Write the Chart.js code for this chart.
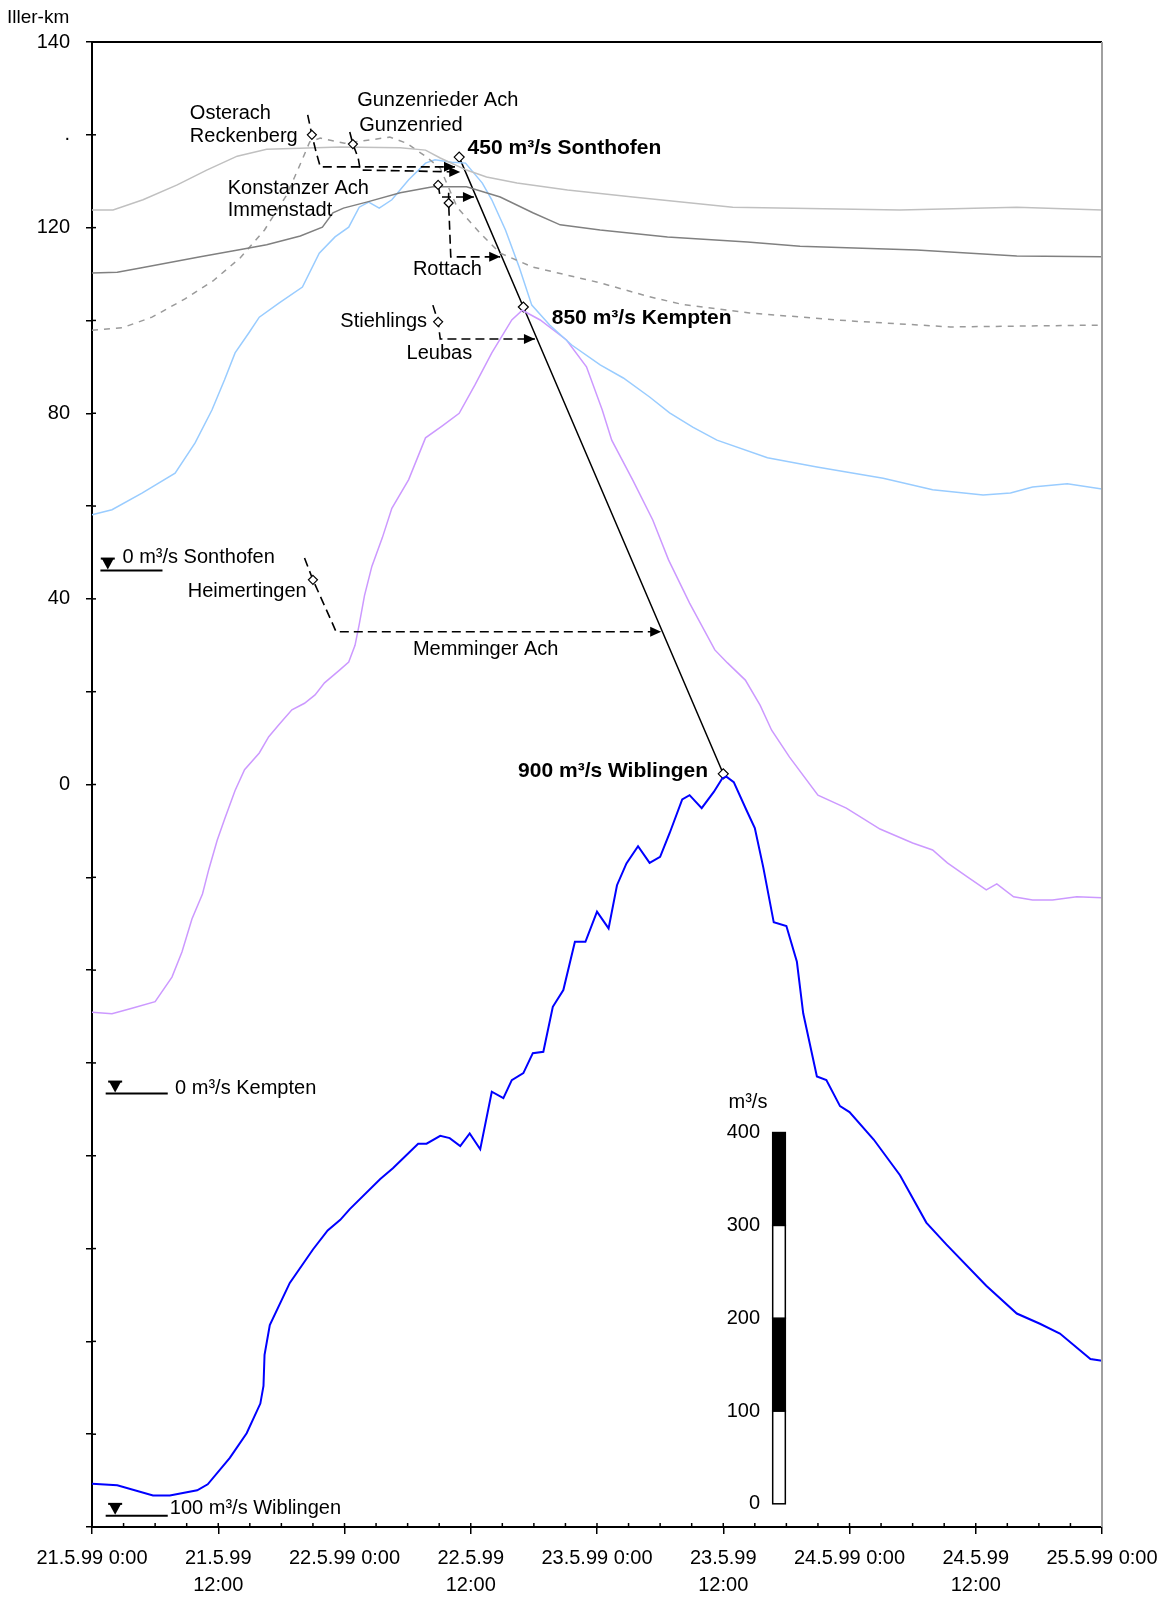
<!DOCTYPE html>
<html>
<head>
<meta charset="utf-8">
<script src="https://cdn.jsdelivr.net/npm/chart.js@4/dist/chart.umd.min.js"></script>
<style>
  html, body { margin: 0; padding: 0; background: #fff; }
</style>
</head>
<body>
<canvas id="myChart" width="1162" height="1599"></canvas>
<script>
// x: Stunden ab 21.5.99 0:00, y: Achseneinheiten (20 Einheiten = 100 m³/s)
const xDays = ['21.5.99', '22.5.99', '23.5.99', '24.5.99', '25.5.99'];
const yTickValues = [140, 120, 100, 60, 20, -20];
const yTickLabels = ['140', '.', '120', '80', '40', '0'];

const grauHellX = [0, 2.0, 4.85, 8.1, 10.9, 13.8, 16.6, 23.6, 29.3, 31.7, 33.1, 35.6, 37.5, 40.4, 45.2, 51.4, 60.9, 76.8, 87.9, 96];
const grauHellY = [103.8, 103.8, 106.0, 109.2, 112.4, 115.4, 116.9, 117.4, 117.2, 116.7, 115.0, 112.4, 110.9, 109.6, 108.1, 106.6, 104.4, 103.8, 104.4, 103.8];

const grauDunkelX = [0, 2.4, 4.6, 10.3, 14.4, 16.6, 19.8, 21.9, 22.9, 23.9, 26.1, 29.3, 32.4, 35.6, 38.8, 41.9, 44.5, 48.3, 54.7, 62.3, 67.3, 78.4, 87.9, 96];
const grauDunkelY = [90.2, 90.4, 91.3, 93.7, 95.4, 96.3, 98.2, 100.1, 103.2, 104.2, 105.5, 107.5, 108.8, 108.8, 106.6, 103.2, 100.6, 99.5, 98.0, 96.9, 96.0, 95.2, 93.9, 93.7];

const grauGestrX = [0, 2.85, 5.7, 8.8, 11.5, 14.1, 16.4, 18.5, 19.8, 20.7, 21.7, 24.0, 26.4, 28.3, 29.9, 31.8, 33.1, 34.7, 36.9, 38.8, 41.9, 48.3, 53.0, 56.2, 62.5, 72.0, 81.6, 96];
const grauGestrY = [77.9, 78.4, 80.7, 84.6, 88.5, 93.5, 99.5, 107.0, 113.7, 118.5, 119.3, 118.2, 118.9, 119.5, 118.2, 115.2, 112.8, 104.4, 98.8, 94.5, 91.5, 88.1, 85.1, 83.4, 81.6, 79.9, 78.6, 79.0];

const sonthofenX = [0, 1.9, 4.75, 7.9, 9.8, 11.4, 12.6, 13.6, 14.9, 15.9, 17.8, 20.0, 21.6, 23.1, 24.4, 25.4, 26.3, 27.3, 28.5, 30.1, 31.7, 32.6, 34.2, 35.5, 37.1, 38.0, 39.3, 40.6, 41.8, 43.5, 45.6, 48.3, 50.5, 53.0, 54.9, 57.1, 59.4, 64.2, 68.9, 75.2, 79.9, 84.7, 87.3, 89.4, 92.7, 96];
const sonthofenY = [38.1, 39.2, 42.8, 47.1, 53.6, 60.7, 67.2, 73.0, 77.3, 80.7, 83.8, 87.2, 94.5, 98.0, 100.1, 104.4, 105.5, 104.2, 106.0, 110.3, 113.9, 114.6, 114.1, 113.9, 109.6, 106.0, 99.5, 91.5, 83.3, 79.0, 74.7, 70.4, 67.6, 63.5, 60.1, 57.0, 54.2, 50.4, 48.4, 46.0, 43.5, 42.4, 42.8, 44.1, 44.8, 43.7];

const kemptenX = [0, 1.9, 3.8, 6.0, 7.6, 8.55, 9.5, 10.5, 11.1, 11.9, 12.6, 13.6, 14.5, 15.9, 16.8, 17.8, 19.0, 20.2, 21.2, 22.1, 23.5, 24.4, 25.0, 25.4, 25.9, 26.6, 27.6, 28.5, 30.1, 31.7, 33.3, 34.9, 36.4, 38.0, 39.9, 40.9, 42.6, 45.1, 47.0, 48.5, 49.4, 51.4, 53.3, 54.8, 56.8, 59.2, 60.4, 62.1, 63.5, 64.6, 66.3, 69.0, 71.7, 74.9, 78.0, 79.9, 81.3, 83.2, 85.0, 86.0, 87.6, 89.4, 91.3, 93.6, 96];
const kemptenY = [-69.1, -69.4, -68.2, -66.8, -61.5, -56.1, -49.0, -43.6, -38.3, -32.0, -27.5, -21.3, -16.8, -13.2, -9.7, -7.0, -3.9, -2.5, -0.7, 1.9, 4.6, 6.4, 10.0, 14.5, 20.7, 27.0, 33.2, 39.5, 45.7, 54.7, 57.3, 60.0, 66.1, 73.0, 80.1, 82.2, 80.1, 75.8, 70.0, 60.7, 54.2, 45.6, 37.0, 28.4, 19.1, 9.0, 6.2, 2.5, -2.9, -8.3, -14.1, -22.3, -25.1, -29.6, -32.6, -34.1, -36.9, -39.9, -42.7, -41.4, -44.2, -44.9, -44.9, -44.2, -44.4];

const wiblingenX = [0, 2.4, 5.8, 7.4, 10.0, 11.0, 13.1, 14.7, 16.0, 16.3, 16.4, 16.9, 18.8, 21.0, 22.4, 23.6, 24.5, 27.4, 28.6, 31.0, 31.8, 33.1, 34.0, 35.0, 35.9, 36.9, 38.0, 39.1, 39.9, 41.0, 41.9, 42.9, 43.8, 44.8, 45.9, 46.9, 48.0, 49.1, 49.9, 50.8, 51.9, 53.0, 54.0, 54.9, 56.1, 56.8, 57.95, 59.1, 59.9, 60.3, 61.0, 62.2, 63.0, 63.8, 64.8, 66.0, 67.0, 67.6, 68.9, 69.8, 71.1, 72.0, 74.3, 76.8, 79.3, 81.2, 85.0, 87.9, 90.1, 92.0, 94.9, 96];
const wiblingenY = [-170.7, -171.0, -173.2, -173.2, -172.1, -170.8, -165.1, -159.8, -153.4, -149.6, -142.9, -136.5, -127.4, -120.2, -116.1, -113.8, -111.5, -105.0, -102.7, -97.4, -97.4, -95.7, -96.2, -97.9, -95.2, -98.6, -86.2, -87.6, -83.7, -82.2, -77.9, -77.6, -67.9, -64.3, -53.9, -53.9, -47.4, -51.0, -41.7, -37.0, -33.3, -36.9, -35.6, -30.5, -23.2, -22.3, -25.1, -21.6, -18.7, -18.3, -19.5, -25.5, -29.4, -37.8, -49.7, -50.5, -58.2, -69.3, -82.9, -83.7, -89.3, -90.6, -96.5, -104.2, -114.4, -119.1, -128.0, -134.0, -136.2, -138.3, -143.8, -144.2];

// Scheitel Sonthofen, Kempten, Wiblingen
const scheitelX = [34.9, 41.0, 60.0];
const scheitelY = [115.2, 82.9, -17.7];

// Zubringer: gestrichelte Pfeile mit Pegel-Raute
const zubringer = [
  { path: [[20.5, 124.3], [20.9, 120.0], [21.3, 116.3], [21.7, 113.1], [34.5, 113.1]], marker: 1 },
  { path: [[24.5, 120.6], [24.8, 118.0], [25.3, 115.0], [25.5, 112.4], [35.0, 112.0]], marker: 1 },
  { path: [[32.9, 109.2], [33.1, 106.6], [36.3, 106.6]], marker: 0 },
  { path: [[33.9, 107.5], [33.9, 105.3], [34.1, 93.7], [38.8, 93.7]], marker: 1 },
  { path: [[32.4, 83.3], [32.9, 79.7], [33.1, 76.0], [42.1, 76.0]], marker: 1 },
  { path: [[20.2, 28.8], [21.0, 24.1], [22.8, 15.0], [23.2, 12.9], [54.1, 12.9]], marker: 1 }
];

const beschriftungen = [
  { t: 'Osterach', h: 9.3, v: 124.7 },
  { t: 'Reckenberg', h: 9.3, v: 119.7 },
  { t: 'Gunzenrieder Ach', h: 25.2, v: 127.3 },
  { t: 'Gunzenried', h: 25.4, v: 122.1 },
  { t: '450 m³/s Sonthofen', h: 35.7, v: 117.2, bold: true },
  { t: 'Konstanzer Ach', h: 12.9, v: 108.5 },
  { t: 'Immenstadt', h: 12.9, v: 103.8 },
  { t: 'Rottach', h: 30.5, v: 90.9 },
  { t: 'Stiehlings', h: 23.6, v: 79.7 },
  { t: '850 m³/s Kempten', h: 43.7, v: 80.5, bold: true },
  { t: 'Leubas', h: 29.9, v: 72.8 },
  { t: 'Heimertingen', h: 9.1, v: 21.7 },
  { t: 'Memminger Ach', h: 30.5, v: 9.2 },
  { t: '900 m³/s Wiblingen', h: 40.5, v: -17.1, bold: true }
];

// Nullpegel-Markierungen
const pegelNull = [
  { t: '0 m³/s Sonthofen', v: 26.1, x0: 0.8, x1: 6.7, tri: 1.5, tx: 2.9, tv: 29.0 },
  { t: '0 m³/s Kempten', v: -86.6, x0: 1.3, x1: 7.2, tri: 2.2, tx: 7.9, tv: -85.4 },
  { t: '100 m³/s Wiblingen', v: -177.6, x0: 1.3, x1: 7.2, tri: 2.2, tx: 7.4, tv: -176.1 }
];

// Massstab m³/s
const skalaWerte = [0, 100, 200, 300, 400];
const skalaBasis = -175;
const skalaFaktor = 0.2;
const skalaX = [64.7, 65.9];

function pts(xs, ys) {
  return xs.map(function (x, i) { return { x: x, y: ys[i] }; });
}

const FONT = '"Liberation Sans", Arial, sans-serif';
Chart.defaults.font.family = FONT;
Chart.defaults.color = '#000';

function raute(c, x, y, r) {
  c.beginPath();
  c.moveTo(x, y - r); c.lineTo(x + r, y); c.lineTo(x, y + r); c.lineTo(x - r, y); c.closePath();
  c.fillStyle = '#fff'; c.fill();
  c.lineWidth = 1.2; c.strokeStyle = '#000'; c.stroke();
}

const annotations = {
  id: 'annotations',
  afterDatasetsDraw: function (chart) {
    const c = chart.ctx;
    const xs = chart.scales.x, ys = chart.scales.y;
    const a = chart.chartArea;
    const px = function (h) { return xs.getPixelForValue(h); };
    const py = function (v) { return ys.getPixelForValue(v); };
    c.save();

    // Rahmen oben / rechts
    c.lineWidth = 2;
    c.strokeStyle = '#000';
    c.beginPath(); c.moveTo(a.left, a.top); c.lineTo(a.right, a.top); c.stroke();
    c.strokeStyle = '#a0a0a0';
    c.beginPath(); c.moveTo(a.right, a.top); c.lineTo(a.right, a.bottom); c.stroke();

    // kleine Ticks innen
    c.strokeStyle = '#000'; c.lineWidth = 1.5;
    for (let h = 3; h < 96; h += 3) {
      c.beginPath(); c.moveTo(px(h), a.bottom); c.lineTo(px(h), a.bottom - 4); c.stroke();
    }
    for (let v = -160; v <= 120; v += 20) {
      c.beginPath(); c.moveTo(a.left, py(v)); c.lineTo(a.left + 4, py(v)); c.stroke();
    }

    // Zubringer
    zubringer.forEach(function (z) {
      c.setLineDash([9, 5]);
      c.lineWidth = 1.6; c.strokeStyle = '#000';
      c.beginPath();
      z.path.forEach(function (p, i) {
        if (i === 0) c.moveTo(px(p[0]), py(p[1])); else c.lineTo(px(p[0]), py(p[1]));
      });
      c.stroke();
      c.setLineDash([]);
      const end = z.path[z.path.length - 1];
      const ex = px(end[0]), ey = py(end[1]);
      c.fillStyle = '#000';
      c.beginPath(); c.moveTo(ex, ey); c.lineTo(ex - 11, ey - 5); c.lineTo(ex - 11, ey + 5); c.closePath(); c.fill();
      const m = z.path[z.marker];
      raute(c, px(m[0]), py(m[1]), 4.5);
    });

    // Texte
    c.textBaseline = 'middle';
    c.textAlign = 'left';
    beschriftungen.forEach(function (b) {
      c.font = (b.bold ? 'bold 21px ' : '20px ') + FONT;
      c.fillStyle = '#000';
      c.fillText(b.t, px(b.h), py(b.v));
    });

    // Nullpegel
    c.font = '20px ' + FONT;
    pegelNull.forEach(function (p) {
      const y = py(p.v);
      c.lineWidth = 2; c.strokeStyle = '#000';
      c.beginPath(); c.moveTo(px(p.x0), y); c.lineTo(px(p.x1), y); c.stroke();
      const tx = px(p.tri);
      c.fillStyle = '#000';
      c.fillRect(tx - 7, y - 13, 14, 2);
      c.beginPath(); c.moveTo(tx - 6, y - 12); c.lineTo(tx + 6, y - 12); c.lineTo(tx, y - 1); c.closePath(); c.fill();
      c.fillText(p.t, px(p.tx), py(p.tv));
    });

    // Massstab
    const bx0 = px(skalaX[0]), bx1 = px(skalaX[1]);
    for (let i = 0; i < skalaWerte.length - 1; i++) {
      const yTop = py(skalaBasis + skalaWerte[i + 1] * skalaFaktor);
      const yBot = py(skalaBasis + skalaWerte[i] * skalaFaktor);
      c.fillStyle = (i % 2 === 1) ? '#000' : '#fff';
      c.fillRect(bx0, yTop, bx1 - bx0, yBot - yTop);
      c.lineWidth = 1.5; c.strokeStyle = '#000';
      c.strokeRect(bx0, yTop, bx1 - bx0, yBot - yTop);
    }
    c.fillStyle = '#000';
    c.textAlign = 'right';
    skalaWerte.forEach(function (w) {
      c.fillText(String(w), px(63.5), py(skalaBasis + w * skalaFaktor));
    });
    c.textAlign = 'left';
    c.fillText('m³/s', px(60.5), py(-88.6));

    // Achsentitel
    c.font = '19px ' + FONT;
    c.fillText('Iller-km', 7, a.top - 24);

    c.restore();
  }
};

new Chart(document.getElementById('myChart').getContext('2d'), {
  type: 'line',
  data: {
    datasets: [
      { data: pts(grauHellX, grauHellY), borderColor: '#c0c0c0', borderWidth: 1.5 },
      { data: pts(grauDunkelX, grauDunkelY), borderColor: '#808080', borderWidth: 1.5 },
      { data: pts(grauGestrX, grauGestrY), borderColor: '#9a9a9a', borderWidth: 1.5, borderDash: [6, 6] },
      { data: pts(sonthofenX, sonthofenY), borderColor: '#99ccff', borderWidth: 1.5 },
      { data: pts(kemptenX, kemptenY), borderColor: '#cc99ff', borderWidth: 1.5 },
      { data: pts(wiblingenX, wiblingenY), borderColor: '#0000ff', borderWidth: 2 },
      {
        data: pts(scheitelX, scheitelY), borderColor: '#000', borderWidth: 1.5,
        pointStyle: 'rectRot', pointRadius: 5, pointBorderColor: '#000',
        pointBackgroundColor: '#fff', pointBorderWidth: 1.2
      }
    ]
  },
  options: {
    responsive: false,
    animation: false,
    devicePixelRatio: 1,
    elements: { point: { radius: 0 }, line: { tension: 0 } },
    layout: { padding: { top: 42, right: 60, left: 0, bottom: 0 } },
    plugins: { legend: { display: false }, tooltip: { enabled: false } },
    scales: {
      x: {
        type: 'linear', min: 0, max: 96,
        border: { display: true, color: '#000', width: 2 },
        grid: { drawOnChartArea: false, color: '#000', tickLength: 7, lineWidth: 1.5 },
        ticks: {
          stepSize: 12, autoSkip: false, maxRotation: 0, padding: 11,
          font: { size: 20, lineHeight: 1.35 },
          callback: function (value) {
            const d = xDays[Math.floor(value / 24)];
            return (value % 24 === 0) ? [d + ' 0:00', ''] : [d, '12:00'];
          }
        },
        afterFit: function (scale) {
          scale.height = 72;
          scale.paddingRight = 0;
          scale.paddingLeft = 0;
        }
      },
      y: {
        type: 'linear', min: -180, max: 140,
        border: { display: true, color: '#000', width: 2 },
        grid: { drawOnChartArea: false, color: '#000', tickLength: 6, lineWidth: 1.5 },
        ticks: {
          stepSize: 20, autoSkip: false, padding: 16,
          font: { size: 20 },
          callback: function (value) {
            const i = yTickValues.indexOf(value);
            return i >= 0 ? yTickLabels[i] : '';
          }
        },
        afterFit: function (scale) { scale.width = 92; }
      }
    }
  },
  plugins: [annotations]
});
</script>
</body>
</html>
